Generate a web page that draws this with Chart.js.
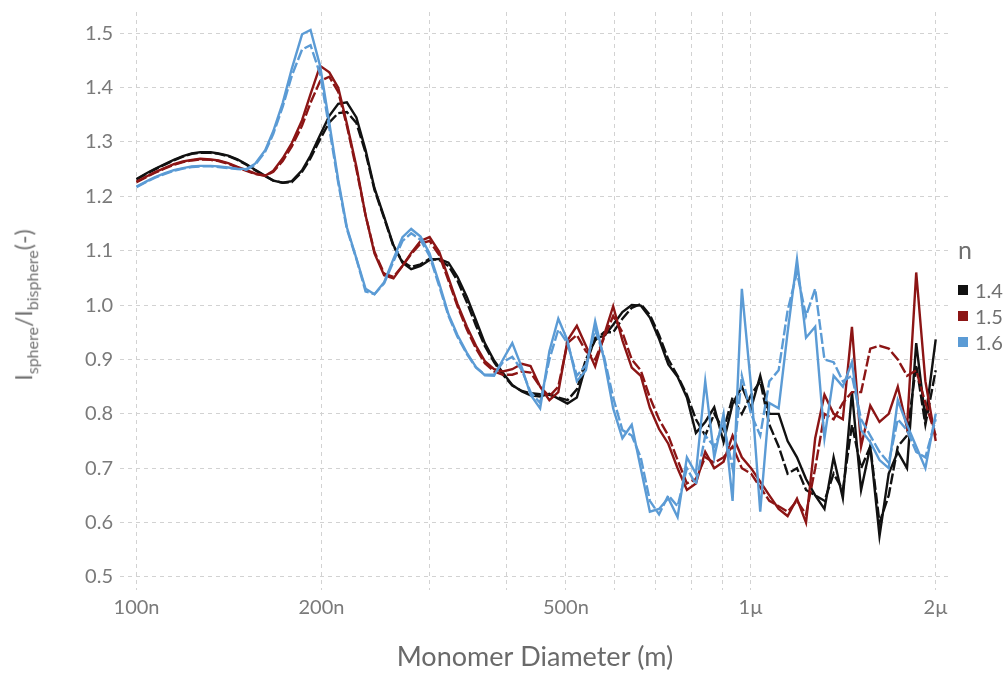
<!DOCTYPE html>
<html>
<head>
<meta charset="utf-8">
<script src="https://cdn.jsdelivr.net/npm/chart.js@4.4.0/dist/chart.umd.min.js"></script>
<style>
  body { margin: 0; background: #fff; }
  #wrap { position: relative; width: 1008px; height: 673px; font-family: Lato, sans-serif; color: #707070; }
  #ytitle { position: absolute; left: 25px; top: 305px; transform: translate(-50%, -50%) rotate(-90deg); white-space: nowrap; font-size: 23px; }
  #ytitle sub { font-size: 16px; }
  #legend { position: absolute; left: 958px; top: 234px; font-size: 20px; }
  #legend .ttl { font-size: 25px; margin-bottom: 13px; }
  #legend .item { height: 26px; display: flex; align-items: center; }
  #legend .sw { width: 10px; height: 10px; margin-right: 7px; }
</style>
</head>
<body>
<div id="wrap">
  <canvas id="chart" width="1008" height="673"></canvas>
  <div id="ytitle">I<sub>sphere</sub>/I<sub>bisphere</sub>(-)</div>
  <div id="legend"></div>
</div>
<script>
// monomer diameter in nm
const diameters = [100,104,107,111,115,119,123,127,132,136,141,146,151,156,162,167,173,179,186,192,199,206,213,220,228,236,244,253,262,271,280,290,300,311,322,333,345,357,369,382,395,409,424,438,454,470,486,503,521,539,558,577,597,618,640,662,685,709,734,760,787,814,843,872,903,934,967,1001,1036,1072,1110,1148,1189,1230,1273,1318,1364,1412,1461,1512,1565,1620,1677,1735,1796,1859,1924,2000];

const n14 = [1.232,1.243,1.250,1.259,1.267,1.274,1.279,1.281,1.281,1.279,
  1.275,1.268,1.259,1.249,1.238,1.229,1.225,1.228,1.248,1.275,
  1.313,1.348,1.370,1.373,1.345,1.285,1.215,1.162,1.110,1.078,
  1.066,1.072,1.083,1.085,1.078,1.052,1.015,0.972,0.930,0.898,
  0.875,0.853,0.841,0.834,0.832,0.837,0.828,0.819,0.830,0.890,
  0.940,0.943,0.964,0.987,1.000,0.999,0.977,0.938,0.891,0.868,
  0.830,0.765,0.785,0.812,0.748,0.818,0.850,0.810,0.870,0.800,
  0.800,0.750,0.720,0.680,0.650,0.625,0.720,0.645,0.840,0.660,
  0.740,0.575,0.690,0.730,0.700,0.930,0.790,0.937];
const n14b = [1.231,1.242,1.249,1.258,1.266,1.273,1.278,1.280,1.280,1.278,
  1.274,1.267,1.258,1.248,1.237,1.229,1.225,1.226,1.245,1.270,
  1.305,1.336,1.353,1.355,1.335,1.280,1.212,1.160,1.108,1.080,
  1.070,1.075,1.085,1.083,1.072,1.045,1.005,0.962,0.925,0.895,
  0.872,0.852,0.842,0.838,0.836,0.835,0.830,0.825,0.845,0.900,
  0.935,0.950,0.950,0.975,0.995,1.002,0.982,0.945,0.900,0.870,
  0.835,0.790,0.760,0.800,0.770,0.830,0.800,0.835,0.860,0.780,
  0.740,0.690,0.700,0.660,0.650,0.640,0.690,0.660,0.780,0.700,
  0.740,0.600,0.650,0.740,0.760,0.890,0.780,0.880];
const n15 = [1.227,1.237,1.244,1.252,1.259,1.264,1.267,1.269,1.268,1.266,
  1.261,1.254,1.248,1.242,1.238,1.247,1.270,1.298,1.340,1.388,
  1.440,1.428,1.400,1.334,1.255,1.165,1.095,1.055,1.049,1.072,
  1.096,1.118,1.125,1.098,1.050,1.002,0.960,0.925,0.897,0.882,
  0.878,0.882,0.892,0.888,0.850,0.825,0.840,0.935,0.962,0.925,
  0.887,0.945,0.998,0.935,0.885,0.870,0.811,0.772,0.745,0.700,
  0.660,0.672,0.730,0.700,0.712,0.760,0.720,0.700,0.675,0.650,
  0.625,0.612,0.644,0.600,0.755,0.835,0.800,0.790,0.960,0.740,
  0.815,0.785,0.800,0.850,0.775,1.060,0.860,0.750];
const n15b = [1.226,1.236,1.243,1.251,1.258,1.263,1.266,1.268,1.267,1.265,
  1.260,1.253,1.247,1.241,1.238,1.245,1.265,1.292,1.330,1.372,
  1.412,1.420,1.392,1.330,1.250,1.165,1.098,1.058,1.052,1.072,
  1.094,1.113,1.118,1.092,1.045,0.998,0.955,0.920,0.893,0.878,
  0.872,0.872,0.878,0.876,0.850,0.832,0.850,0.930,0.945,0.915,
  0.900,0.940,0.980,0.950,0.900,0.880,0.830,0.790,0.760,0.715,
  0.672,0.680,0.720,0.710,0.720,0.740,0.700,0.690,0.665,0.640,
  0.630,0.620,0.640,0.615,0.700,0.800,0.790,0.820,0.840,0.840,
  0.920,0.925,0.920,0.900,0.870,0.880,0.820,0.760];
const n16 = [1.218,1.228,1.235,1.242,1.248,1.252,1.255,1.256,1.256,1.255,
  1.253,1.251,1.250,1.260,1.285,1.320,1.372,1.435,1.498,1.506,
  1.440,1.335,1.230,1.143,1.086,1.030,1.020,1.042,1.085,1.125,
  1.140,1.126,1.095,1.040,0.983,0.945,0.912,0.886,0.871,0.870,
  0.900,0.930,0.885,0.835,0.810,0.915,0.975,0.935,0.860,0.880,
  0.970,0.900,0.810,0.755,0.780,0.700,0.620,0.625,0.645,0.610,
  0.720,0.690,0.860,0.720,0.800,0.640,1.030,0.850,0.620,0.820,
  0.810,0.950,1.084,0.940,0.960,0.755,0.870,0.850,0.895,0.770,
  0.748,0.715,0.700,0.825,0.780,0.740,0.700,0.800];
const n16b = [1.217,1.227,1.234,1.241,1.247,1.251,1.254,1.255,1.255,1.254,
  1.252,1.250,1.249,1.258,1.282,1.315,1.365,1.422,1.470,1.478,
  1.425,1.325,1.225,1.140,1.085,1.025,1.020,1.040,1.080,1.118,
  1.132,1.120,1.090,1.035,0.980,0.942,0.910,0.885,0.872,0.872,
  0.895,0.905,0.880,0.840,0.820,0.900,0.955,0.930,0.870,0.890,
  0.955,0.905,0.830,0.770,0.760,0.720,0.640,0.615,0.650,0.630,
  0.700,0.670,0.760,0.740,0.780,0.700,0.870,0.800,0.760,0.860,
  0.880,0.990,1.060,0.980,1.030,0.900,0.895,0.860,0.870,0.790,
  0.760,0.730,0.710,0.790,0.770,0.730,0.720,0.790];

const legendNames = ['1.4', '1.5', '1.6'];
const colors = ['#111111', '#8c1515', '#5b9bd5'];
const xGrid = [100,200,300,400,500,600,700,800,900,1000,2000];
const xLabeled = [100,200,500,1000,2000];
const yTicks = [0.5,0.6,0.7,0.8,0.9,1.0,1.1,1.2,1.3,1.4,1.5];

function pts(vals) {
  return diameters.map((d, i) => ({ x: d, y: vals[i] }));
}
function fmtX(v) {
  return v < 1000 ? v + 'n' : (v / 1000) + 'µ';
}
function noPad(s) {
  s.paddingTop = 0; s.paddingBottom = 0; s.paddingLeft = 0; s.paddingRight = 0;
}

const series = [[n16, n16b], [n15, n15b], [n14, n14b]];
const seriesColors = [colors[2], colors[1], colors[0]];
const datasets = [];
series.forEach((pair, k) => {
  datasets.push({ data: pts(pair[0]), borderColor: seriesColors[k], borderWidth: 2.4, pointRadius: 0, tension: 0 });
  datasets.push({ data: pts(pair[1]), borderColor: seriesColors[k], borderWidth: 2.4, pointRadius: 0, tension: 0, borderDash: [11, 3] });
});

const tickFont = { family: 'Lato', size: 20 };

new Chart(document.getElementById('chart'), {
  type: 'line',
  data: { datasets: datasets },
  options: {
    responsive: false,
    animation: false,
    devicePixelRatio: 1,
    layout: { padding: { left: 0, right: 58, top: 12, bottom: 0 } },
    plugins: { legend: { display: false }, tooltip: { enabled: false } },
    scales: {
      x: {
        type: 'logarithmic',
        min: 94,
        max: 2110,
        afterBuildTicks: s => { s.ticks = xGrid.map(v => ({ value: v })); },
        afterFit: s => { s.height = 83; noPad(s); },
        grid: { color: '#d2d2d2', drawTicks: false, lineWidth: 1 },
        border: { display: false, dash: [4, 4] },
        ticks: {
          autoSkip: false, maxRotation: 0, padding: 6, color: '#7a7a7a', font: tickFont,
          callback: v => xLabeled.includes(v) ? fmtX(v) : ''
        },
        title: { display: true, text: 'Monomer Diameter (m)', color: '#6a6a6a', font: { family: 'Lato', size: 27 }, padding: { top: 0, bottom: 0 } }
      },
      y: {
        min: 0.476,
        max: 1.539,
        afterBuildTicks: s => { s.ticks = yTicks.map(v => ({ value: v })); },
        afterFit: s => { s.width = 120; noPad(s); },
        grid: { color: '#d2d2d2', drawTicks: false, lineWidth: 1 },
        border: { display: false, dash: [4, 4] },
        ticks: { padding: 7, color: '#7a7a7a', font: tickFont, callback: v => v.toFixed(1) }
      }
    }
  }
});

const lg = document.getElementById('legend');
let html = '<div class="ttl">n</div>';
legendNames.forEach((name, i) => {
  html += '<div class="item"><span class="sw" style="background:' + colors[i] + '"></span>' + name + '</div>';
});
lg.innerHTML = html;
</script>
</body>
</html>
